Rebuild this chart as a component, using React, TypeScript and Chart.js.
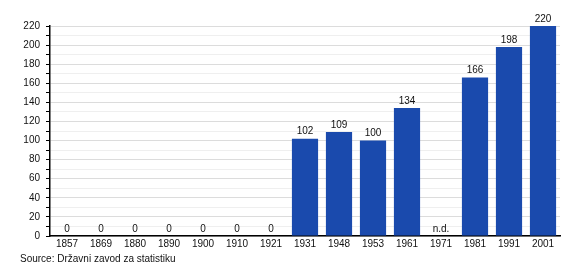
import React, { useEffect, useRef } from "react";
import { Chart, registerables } from "chart.js";

Chart.register(...registerables);

const categories = ["1857", "1869", "1880", "1890", "1900", "1910", "1921", "1931", "1948", "1953", "1961", "1971", "1981", "1991", "2001"];
const values: (number | null)[] = [0, 0, 0, 0, 0, 0, 0, 102, 109, 100, 134, null, 166, 198, 220];
const missingLabel = "n.d.";
const sourceText = "Source: Državni zavod za statistiku";
const barColor = "#1a4aad";
const FONT = "'Liberation Sans', Arial, sans-serif";

const labelsPlugin = {
  id: "barLabels",
  afterDatasetsDraw(chart: any) {
    const ctx = chart.ctx;
    const xs = chart.scales.x;
    const ys = chart.scales.y;
    ctx.save();
    ctx.font = `10px ${FONT}`;
    ctx.fillStyle = "#111";
    ctx.textAlign = "center";
    ctx.textBaseline = "bottom";
    values.forEach((v, i) => {
      const x = xs.getPixelForValue(i);
      if (v === null) {
        ctx.fillText(missingLabel, x, ys.getPixelForValue(0) - 2);
      } else {
        ctx.fillText(String(v), x, ys.getPixelForValue(v) - 2);
      }
    });
    ctx.restore();
  },
  afterDraw(chart: any) {
    const ctx = chart.ctx;
    ctx.save();
    ctx.font = `10px ${FONT}`;
    ctx.fillStyle = "#111";
    ctx.textAlign = "left";
    ctx.textBaseline = "middle";
    ctx.fillText(sourceText, 20, 259);
    ctx.restore();
  },
};

export default function App() {
  const ref = useRef<HTMLCanvasElement>(null);
  useEffect(() => {
    document.body.style.margin = "0";
    const chart = new Chart(ref.current!, {
      type: "bar",
      data: {
        labels: categories,
        datasets: [
          {
            data: values as any,
            backgroundColor: barColor,
            barPercentage: 0.77,
            categoryPercentage: 1,
          },
        ],
      },
      options: {
        animation: false,
        responsive: false,
        layout: { padding: { top: 26, right: 20, left: 0, bottom: 0 } },
        plugins: { legend: { display: false }, tooltip: { enabled: false } },
        scales: {
          x: {
            grid: { display: false, drawTicks: false },
            border: { display: true, color: "#000", width: 1.5 },
            ticks: { font: { family: FONT, size: 10 }, color: "#111", padding: 2, maxRotation: 0, autoSkip: false },
            afterFit(scale: any) {
              scale.height = 44;
            },
          },
          y: {
            min: 0,
            max: 220,
            grid: {
              color: (c: any) => (c.tick && c.tick.value % 20 === 0 ? "#dcdcdc" : "#efefef"),
              tickColor: "#000",
              tickLength: 4,
            },
            border: { display: true, color: "#000", width: 1.5 },
            ticks: {
              stepSize: 10,
              autoSkip: false,
              font: { family: FONT, size: 10 },
              color: "#111",
              padding: 6,
              callback: (v: any) => (Number(v) % 20 === 0 ? String(v) : ""),
            },
            afterFit(scale: any) {
              scale.width = 50;
            },
          },
        },
      },
      plugins: [labelsPlugin],
    });
    return () => chart.destroy();
  }, []);
  return <canvas ref={ref} width={580} height={280} style={{ display: "block" }} />;
}
